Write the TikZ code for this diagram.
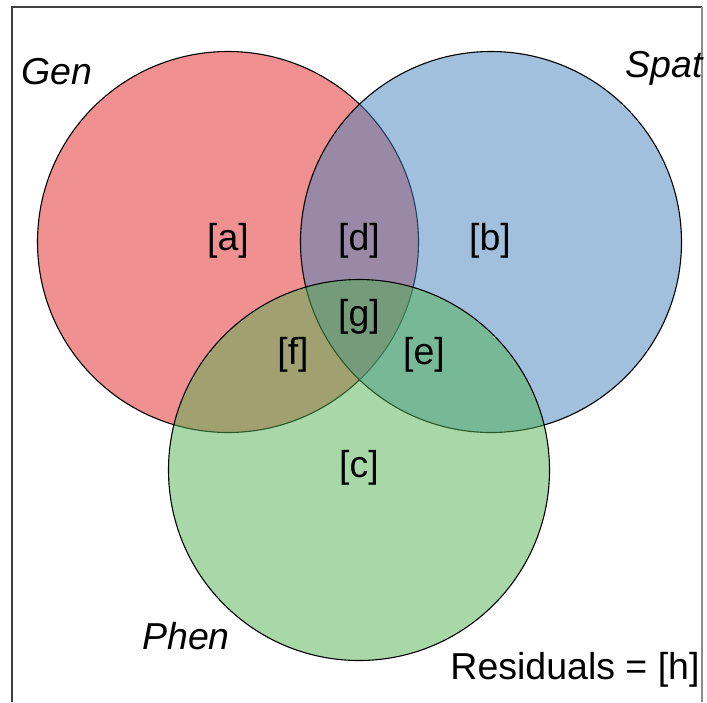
\documentclass[tikz,border=0pt]{standalone}
\usepackage{fontspec}
\setmainfont{Liberation Sans}
\usetikzlibrary{positioning}
\definecolor{genred}{RGB}{228,34,34}
\definecolor{spatblue}{RGB}{65,129,189}
\definecolor{phengreen}{RGB}{81,177,81}

\begin{document}
\begin{tikzpicture}[x=1pt, y=-1pt]
        % styles
        \tikzset{
            setcircle/.style={circle, draw=black, line width=1.1pt, fill opacity=0.5, minimum size=381pt, inner sep=0pt},
            partlabel/.style={font=\fontsize{37.5}{40}\selectfont, inner sep=0pt},
            setname/.style={font=\fontsize{37.5}{40}\selectfont\itshape, inner sep=0pt},
            frameline/.style={line width=1.2pt, black!75}
        }
        \useasboundingbox (0,0) rectangle (707,702);

        % frame (open at bottom)
        \draw[frameline] (12,702) -- (12,7) -- (702,7);
        \draw[frameline, black!45] (702,7) -- (702,702);

        % the three sets
        \node[setcircle, fill=genred] (gen) at (228,242) {};
        \node[setcircle, fill=spatblue] (spat) at (491,242) {};
        \node[setcircle, fill=phengreen] (phen) at (359,470) {};

        % set names
        \node[setname] (genname) at (57,72) {Gen};
        \node[setname] (spatname) at (664,68) {Spat};
        \node[setname] (phenname) at (186,636) {Phen};

        % parts
        \node[partlabel] (a) at (228,241) {[a]};
        \node[partlabel] (d) at (359,241) {[d]};
        \node[partlabel] (b) at (490,241) {[b]};
        \node[partlabel] (g) at (359,317) {[g]};
        \node[partlabel] (f) at (293,355) {[f]};
        \node[partlabel] (e) at (424,355) {[e]};
        \node[partlabel] (c) at (359,468) {[c]};
        \node[partlabel] (h) at (575,670) {Residuals = [h]};

\end{tikzpicture}
\end{document}
